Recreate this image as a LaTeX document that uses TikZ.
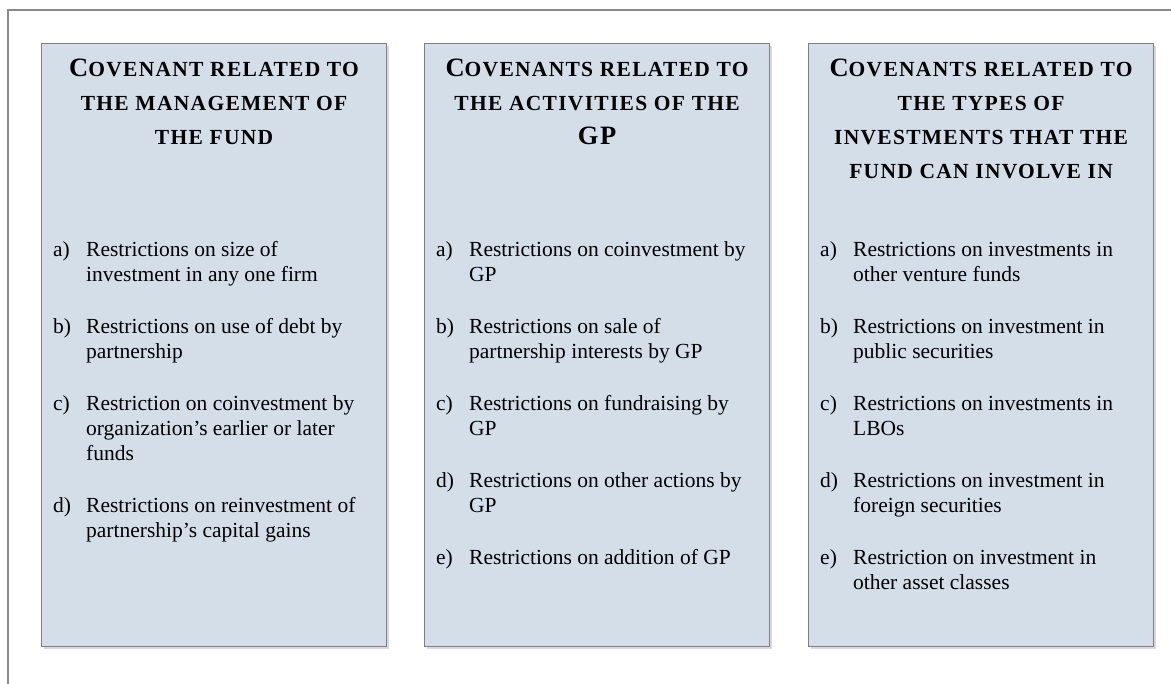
\documentclass[tikz,border=0pt]{standalone}
\usepackage{fontspec}
\setmainfont{Liberation Serif}
\newfontfamily\ttlfont[LetterSpace=6]{Liberation Serif}
\usepackage{tikz}
\usetikzlibrary{positioning,shadows}
\definecolor{boxFill}{HTML}{D3DEE9}
\definecolor{boxLine}{HTML}{7F7F7F}
\definecolor{frameLine}{HTML}{8A8A8A}
\newcommand{\capL}[1]{{\fontsize{26.5}{34}\selectfont #1}}

\begin{document}
\begin{tikzpicture}[x=1pt,y=-1pt,
  colbox/.style={draw=boxLine,fill=boxFill,line width=1.2pt,minimum width=345pt,minimum height=603pt,inner sep=0pt,
    drop shadow={opacity=0.3,shadow xshift=2pt,shadow yshift=-2.5pt}},
  ttl/.style={anchor=base,inner sep=0pt,font=\ttlfont\bfseries\fontsize{21.5}{34}\selectfont},
  lst/.style={anchor=base west,inner sep=0pt,font=\fontsize{21.5}{25}\selectfont}]
  \useasboundingbox (0,0) rectangle (1171,684);
  \draw[frameLine,line width=1.3pt] (8,10) rectangle (1190,700);
  \foreach \n/\x in {1/41, 2/424, 3/808}
    \node[colbox,anchor=north west] (box\n) at (\x,43) {};
  % titles
  \node[ttl] (title1) at ([yshift=-34pt]box1.north) {\begin{tabular}[t]{@{}c@{}}
    \capL{C}OVENANT RELATED TO\\ THE MANAGEMENT OF\\ THE FUND\end{tabular}};
  \node[ttl] (title2) at ([yshift=-34pt]box2.north) {\begin{tabular}[t]{@{}c@{}}
    \capL{C}OVENANTS RELATED TO\\ THE ACTIVITIES OF THE\\ \capL{GP}\end{tabular}};
  \node[ttl] (title3) at ([yshift=-34pt]box3.north) {\begin{tabular}[t]{@{}c@{}}
    \capL{C}OVENANTS RELATED TO\\ THE TYPES OF\\ INVESTMENTS THAT THE\\ FUND CAN INVOLVE IN\end{tabular}};
  % restriction lists
  \node[lst] (list1) at ([xshift=12pt,yshift=-214pt]box1.north west) {\begin{tabular}[t]{@{}p{33pt}@{}l@{}}
    a) & Restrictions on size of\\ & investment in any one firm\\[27pt]
    b) & Restrictions on use of debt by\\ & partnership\\[27pt]
    c) & Restriction on coinvestment by\\ & organization’s earlier or later\\ & funds\\[27pt]
    d) & Restrictions on reinvestment of\\ & partnership’s capital gains\end{tabular}};
  \node[lst] (list2) at ([xshift=12pt,yshift=-214pt]box2.north west) {\begin{tabular}[t]{@{}p{33pt}@{}l@{}}
    a) & Restrictions on coinvestment by\\ & GP\\[27pt]
    b) & Restrictions on sale of\\ & partnership interests by GP\\[27pt]
    c) & Restrictions on fundraising by\\ & GP\\[27pt]
    d) & Restrictions on other actions by\\ & GP\\[27pt]
    e) & Restrictions on addition of GP\end{tabular}};
  \node[lst] (list3) at ([xshift=12pt,yshift=-214pt]box3.north west) {\begin{tabular}[t]{@{}p{33pt}@{}l@{}}
    a) & Restrictions on investments in\\ & other venture funds\\[27pt]
    b) & Restrictions on investment in\\ & public securities\\[27pt]
    c) & Restrictions on investments in\\ & LBOs\\[27pt]
    d) & Restrictions on investment in\\ & foreign securities\\[27pt]
    e) & Restriction on investment in\\ & other asset classes\end{tabular}};
\end{tikzpicture}
\end{document}
